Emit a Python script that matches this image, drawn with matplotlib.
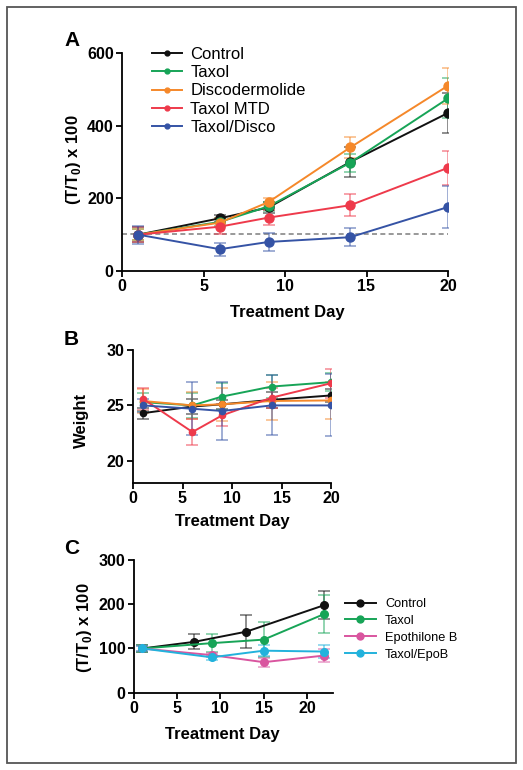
import matplotlib
matplotlib.use("Agg")
import matplotlib.pyplot as plt
from matplotlib.patches import Rectangle

plt.rcParams['font.family'] = ['Liberation Sans', 'DejaVu Sans']
plt.rcParams['mathtext.fontset'] = 'custom'
plt.rcParams['mathtext.rm'] = 'Liberation Sans:bold'
plt.rcParams['mathtext.bf'] = 'Liberation Sans:bold'

# panel A: tumour volume
days_a = [1, 6, 9, 14, 20]
names_a = ['Control', 'Taxol', 'Discodermolide', 'Taxol MTD', 'Taxol/Disco']
colors_a = ['#111111', '#17a457', '#f5882a', '#ee3a4b', '#3553a5']
vals_a = [[100, 145, 175, 300, 435],
          [100, 135, 178, 298, 475],
          [100, 133, 190, 340, 510],
          [100, 122, 147, 181, 284],
          [100, 60, 80, 93, 176]]
errs_a = [[20, 10, 15, 40, 55],
          [15, 10, 12, 25, 55],
          [15, 12, 10, 28, 50],
          [20, 20, 20, 30, 47],
          [25, 18, 25, 25, 58]]
baseline_a = 103

# panel B: body weight
vals_b = [[24.3, 24.9, 25.1, 25.5, 25.9],
          [25.3, 25.0, 25.8, 26.7, 27.1],
          [25.4, 25.0, 25.1, 25.4, 25.45],
          [25.6, 22.6, 24.1, 25.7, 27.0],
          [25.0, 24.7, 24.5, 25.0, 25.0]]
errs_b = [[0.5, 0.7, 0.4, 0.7, 0.6],
          [0.8, 1.1, 1.2, 1.0, 0.8],
          [1.1, 1.2, 1.5, 1.7, 1.7],
          [1.0, 1.2, 1.0, 0.9, 1.3],
          [0.6, 2.4, 2.6, 2.7, 2.8]]

# panel C
names_c = ['Control', 'Taxol', 'Epothilone B', 'Taxol/EpoB']
colors_c = ['#111111', '#17a457', '#d9559f', '#22b2dc']
days_c = [[1, 7, 13, 22], [1, 9, 15, 22], [1, 9, 15, 22], [1, 9, 15, 22]]
vals_c = [[100, 115, 138, 198],
          [100, 112, 120, 178],
          [100, 85, 69, 84],
          [100, 80, 95, 93]]
errs_c = [[8, 17, 37, 32],
          [8, 20, 40, 42],
          [5, 5, 10, 15],
          [5, 5, 12, 15]]

fig = plt.figure(figsize=(5.23, 7.70), dpi=100)
fig.patches.append(Rectangle((7 / 523, 1 - 763 / 770), 509 / 523, 756 / 770,
                             transform=fig.transFigure, fill=False,
                             edgecolor='#555555', linewidth=1.3))


def style(ax):
    for s in ['top', 'right']:
        ax.spines[s].set_visible(False)
    for s in ['left', 'bottom']:
        ax.spines[s].set_linewidth(1.3)
    ax.tick_params(direction='out', length=4, width=1.3, pad=2, labelsize=11.5)
    for lab in ax.get_xticklabels() + ax.get_yticklabels():
        lab.set_fontweight('bold')


def draw(ax, xs, ys, es, color, ms, lw):
    ax.errorbar(xs, ys, yerr=es, color=color, ecolor=matplotlib.colors.to_rgba(color, 0.55),
                elinewidth=1.2, capsize=4, capthick=1.2, marker='o', markersize=ms,
                linewidth=lw, label=None)


ylab = r'(T/T$_{\mathbf{0}}$) x 100'

# A
axA = fig.add_axes([122 / 523, 1 - 271 / 770, 326 / 523, 218 / 770])
axA.axhline(baseline_a, color='#888888', linestyle=(0, (3, 2)), linewidth=1.2, zorder=0)
for v, e, c, n in zip(vals_a, errs_a, colors_a, names_a):
    draw(axA, days_a, v, e, c, 6.5, 1.4)
    axA.plot([], [], color=c, marker='o', markersize=3.5, linewidth=1.4, label=n)
axA.set_xlim(0, 20)
axA.set_ylim(0, 600)
axA.set_xticks([0, 5, 10, 15, 20])
axA.set_yticks([0, 200, 400, 600])
style(axA)
axA.set_xlabel('Treatment Day', fontsize=12, fontweight='bold')
axA.xaxis.set_label_coords(0.506, -0.155)
axA.set_ylabel(ylab, fontsize=12, fontweight='bold')
axA.yaxis.set_label_coords(-0.12, 0.51)
axA.legend(loc='upper left', bbox_to_anchor=(152 / 523, 1 - 47 / 770),
           bbox_transform=fig.transFigure, frameon=False, fontsize=12,
           handlelength=1.8, handletextpad=0.5, labelspacing=0.19,
           borderpad=0, borderaxespad=0)

# B
axB = fig.add_axes([133 / 523, 1 - 483 / 770, 198 / 523, 133 / 770])
for v, e, c in zip(vals_b, errs_b, colors_a):
    draw(axB, days_a, v, e, c, 4.5, 1.4)
axB.set_xlim(0, 20)
axB.set_ylim(18, 30)
axB.set_xticks([0, 5, 10, 15, 20])
axB.set_yticks([20, 25, 30])
style(axB)
axB.set_xlabel('Treatment Day', fontsize=12, fontweight='bold')
axB.xaxis.set_label_coords(0.5, -0.235)
axB.set_ylabel('Weight', fontsize=12, fontweight='bold')
axB.yaxis.set_label_coords(-0.222, 0.47)

# C
axC = fig.add_axes([133.7 / 523, 1 - 692.7 / 770, 199.3 / 523, 132.7 / 770])
for xs, v, e, c, n in zip(days_c, vals_c, errs_c, colors_c, names_c):
    draw(axC, xs, v, e, c, 5.5, 1.4)
    axC.plot([], [], color=c, marker='o', markersize=5, linewidth=1.4, label=n)
axC.set_xlim(0, 23)
axC.set_ylim(0, 300)
axC.set_xticks([0, 5, 10, 15, 20])
axC.set_yticks([0, 100, 200, 300])
style(axC)
axC.set_xlabel('Treatment Day', fontsize=12, fontweight='bold')
axC.xaxis.set_label_coords(0.443, -0.255)
axC.set_ylabel(ylab, fontsize=12, fontweight='bold')
axC.yaxis.set_label_coords(-0.2, 0.49)
axC.legend(loc='upper left', bbox_to_anchor=(345 / 523, 1 - 598 / 770),
           bbox_transform=fig.transFigure, frameon=False, fontsize=9.2,
           handlelength=2.4, handletextpad=0.75, labelspacing=0.38,
           borderpad=0, borderaxespad=0)

for lab, y in [('A', 40), ('B', 340), ('C', 548)]:
    fig.text(64 / 523, 1 - y / 770, lab, fontsize=15, fontweight='bold',
             ha='left', va='center')

fig.savefig('out.png', dpi=100)
